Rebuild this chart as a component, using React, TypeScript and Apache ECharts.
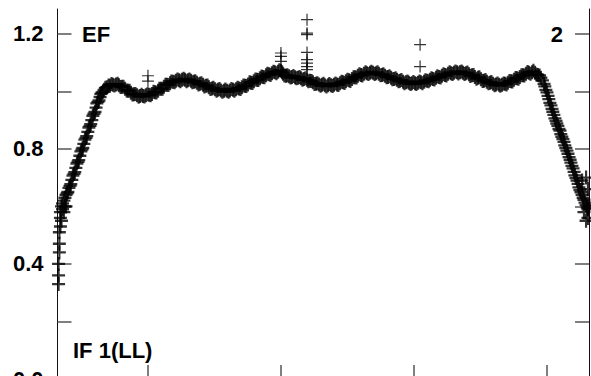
import React, { useEffect, useRef } from "react";
import * as echarts from "echarts";

// x ticks (wavelength, µm) and y ticks
const xTicks = [20, 25, 30, 35];
const yTicks = [0, 0.2, 0.4, 0.6, 0.8, 1.0, 1.2];
const yLabelValues = [0, 0.4, 0.8, 1.2];

// points piled up at the blue edge of the order
const leftEdge: [number, number][] = [
  [16.64, 0.33], [16.64, 0.36], [16.64, 0.4],
  [16.67, 0.44], [16.67, 0.47], [16.67, 0.51],
  [16.71, 0.53], [16.71, 0.56], [16.71, 0.58],
  [16.75, 0.6], [16.75, 0.55],
  [16.79, 0.59], [16.79, 0.61],
  [16.84, 0.58], [16.84, 0.62],
  [16.88, 0.6], [16.88, 0.63],
  [16.92, 0.64], [16.92, 0.6], [16.96, 0.645],
];

// rising blue end of the spectrum
const ramp: [number, number][] = [
  [16.99, 0.65], [17.03, 0.664], [17.07, 0.671], [17.1, 0.677], [17.14, 0.692], [17.18, 0.707],
  [17.22, 0.713], [17.25, 0.719], [17.29, 0.734], [17.33, 0.749], [17.37, 0.755], [17.4, 0.761],
  [17.44, 0.776], [17.48, 0.791], [17.52, 0.797], [17.55, 0.803], [17.59, 0.817], [17.63, 0.832],
  [17.67, 0.838], [17.7, 0.844], [17.74, 0.859], [17.78, 0.874], [17.82, 0.88], [17.85, 0.886],
  [17.89, 0.9], [17.93, 0.915], [17.97, 0.922], [18.01, 0.928], [18.05, 0.943], [18.08, 0.958],
  [18.12, 0.963], [18.16, 0.968], [18.2, 0.98], [18.23, 0.991], [18.27, 0.995], [18.31, 0.998],
  [18.35, 1.005], [18.4, 1.012],
];

// wavy plateau
const plateau: [number, number][] = [
  [18.46, 1.014], [18.52, 1.02], [18.57, 1.019], [18.63, 1.025], [18.68, 1.023], [18.74, 1.02],
  [18.8, 1.024], [18.86, 1.026], [18.91, 1.021], [18.97, 1.015], [19.02, 1.016], [19.08, 1.016],
  [19.14, 1.009], [19.2, 1.003], [19.25, 1.002], [19.31, 1.002], [19.36, 0.995], [19.42, 0.989],
  [19.47, 0.99], [19.53, 0.991], [19.59, 0.986], [19.65, 0.981], [19.7, 0.984], [19.76, 0.988],
  [19.81, 0.984], [19.87, 0.982], [19.92, 0.986], [19.98, 0.99], [20.04, 0.988], [20.1, 0.986],
  [20.15, 0.991], [20.21, 0.998], [20.26, 0.997], [20.32, 0.996], [20.38, 1.002], [20.43, 1.009],
  [20.49, 1.009], [20.55, 1.009], [20.6, 1.016], [20.66, 1.023], [20.71, 1.023], [20.77, 1.022],
  [20.83, 1.028], [20.88, 1.034], [20.94, 1.033], [21.0, 1.031], [21.05, 1.037], [21.11, 1.041],
  [21.17, 1.038], [21.22, 1.035], [21.28, 1.04], [21.34, 1.044], [21.39, 1.04], [21.45, 1.035],
  [21.5, 1.038], [21.56, 1.041], [21.62, 1.037], [21.67, 1.031], [21.73, 1.033], [21.78, 1.035],
  [21.84, 1.03], [21.9, 1.024], [21.95, 1.026], [22.01, 1.028], [22.07, 1.023], [22.12, 1.017],
  [22.18, 1.019], [22.24, 1.02], [22.29, 1.014], [22.35, 1.008], [22.41, 1.01], [22.46, 1.012],
  [22.52, 1.007], [22.58, 1.002], [22.63, 1.005], [22.69, 1.008], [22.74, 1.003], [22.8, 0.998],
  [22.86, 1.002], [22.91, 1.006], [22.97, 1.002], [23.03, 0.998], [23.08, 1.003], [23.14, 1.008],
  [23.2, 1.005], [23.25, 1.002], [23.31, 1.007], [23.37, 1.012], [23.42, 1.01], [23.48, 1.008],
  [23.53, 1.014], [23.59, 1.02], [23.65, 1.019], [23.7, 1.018], [23.76, 1.024], [23.82, 1.031],
  [23.87, 1.03], [23.93, 1.029], [23.98, 1.035], [24.04, 1.041], [24.1, 1.04], [24.15, 1.039],
  [24.21, 1.045], [24.27, 1.051], [24.32, 1.05], [24.38, 1.049], [24.44, 1.056], [24.49, 1.061],
  [24.55, 1.059], [24.61, 1.057], [24.66, 1.063], [24.72, 1.068], [24.77, 1.066], [24.83, 1.063],
  [24.89, 1.068], [24.94, 1.073], [25.0, 1.071], [25.04, 1.066], [25.08, 1.061], [25.13, 1.055],
  [25.19, 1.054], [25.24, 1.056], [25.3, 1.052], [25.36, 1.048], [25.41, 1.05], [25.47, 1.053],
  [25.53, 1.049], [25.58, 1.045], [25.64, 1.047], [25.7, 1.05], [25.75, 1.045], [25.81, 1.04],
  [25.86, 1.043], [25.92, 1.045], [25.98, 1.04], [26.03, 1.035], [26.09, 1.037], [26.15, 1.036],
  [26.2, 1.031], [26.26, 1.025], [26.32, 1.026], [26.37, 1.028], [26.43, 1.024], [26.49, 1.019],
  [26.54, 1.023], [26.6, 1.026], [26.65, 1.021], [26.71, 1.017], [26.77, 1.021], [26.82, 1.025],
  [26.88, 1.021], [26.94, 1.018], [26.99, 1.023], [27.05, 1.027], [27.11, 1.024], [27.16, 1.022],
  [27.22, 1.028], [27.28, 1.033], [27.33, 1.031], [27.39, 1.029], [27.44, 1.035], [27.5, 1.04],
  [27.56, 1.038], [27.61, 1.036], [27.67, 1.043], [27.73, 1.049], [27.78, 1.049], [27.84, 1.048],
  [27.89, 1.054], [27.95, 1.059], [28.01, 1.057], [28.06, 1.055], [28.12, 1.061], [28.18, 1.066],
  [28.23, 1.063], [28.29, 1.06], [28.35, 1.064], [28.4, 1.068], [28.46, 1.064], [28.52, 1.06],
  [28.57, 1.063], [28.63, 1.066], [28.68, 1.061], [28.74, 1.056], [28.8, 1.057], [28.85, 1.059],
  [28.91, 1.054], [28.97, 1.049], [29.02, 1.05], [29.08, 1.052], [29.14, 1.047], [29.19, 1.042],
  [29.25, 1.043], [29.31, 1.045], [29.36, 1.04], [29.42, 1.035], [29.47, 1.037], [29.53, 1.039],
  [29.59, 1.033], [29.64, 1.028], [29.7, 1.031], [29.76, 1.034], [29.81, 1.03], [29.87, 1.025],
  [29.92, 1.028], [29.98, 1.032], [30.04, 1.028], [30.09, 1.025], [30.15, 1.03], [30.21, 1.034],
  [30.26, 1.031], [30.32, 1.028], [30.38, 1.033], [30.43, 1.038], [30.49, 1.037], [30.55, 1.035],
  [30.6, 1.04], [30.66, 1.045], [30.71, 1.043], [30.77, 1.041], [30.83, 1.047], [30.88, 1.052],
  [30.94, 1.05], [31.0, 1.048], [31.05, 1.054], [31.11, 1.059], [31.17, 1.057], [31.22, 1.055],
  [31.28, 1.061], [31.34, 1.066], [31.39, 1.063], [31.45, 1.06], [31.5, 1.064], [31.56, 1.069],
  [31.62, 1.066], [31.67, 1.062], [31.73, 1.066], [31.79, 1.069], [31.84, 1.064], [31.9, 1.06],
  [31.95, 1.063], [32.01, 1.065], [32.07, 1.059], [32.12, 1.053], [32.18, 1.056], [32.24, 1.057],
  [32.29, 1.05], [32.35, 1.044], [32.41, 1.047], [32.46, 1.049], [32.52, 1.042], [32.58, 1.036],
  [32.63, 1.037], [32.69, 1.039], [32.74, 1.033], [32.8, 1.028], [32.86, 1.03], [32.91, 1.032],
  [32.97, 1.026], [33.03, 1.021], [33.08, 1.024], [33.14, 1.027], [33.2, 1.023], [33.25, 1.019],
  [33.31, 1.023], [33.37, 1.027], [33.42, 1.026], [33.48, 1.024], [33.53, 1.03], [33.59, 1.036],
  [33.65, 1.035], [33.7, 1.034], [33.76, 1.04], [33.82, 1.046], [33.87, 1.045], [33.93, 1.044],
  [33.98, 1.05], [34.04, 1.056], [34.1, 1.056], [34.15, 1.055], [34.21, 1.061], [34.27, 1.067],
  [34.32, 1.064], [34.38, 1.061], [34.44, 1.066], [34.49, 1.071], [34.55, 1.064], [34.6, 1.058],
  [34.66, 1.057], [34.72, 1.055], [34.77, 1.047], [34.83, 1.038], [34.89, 1.026],
];

// falling red end of the spectrum
const descent: [number, number][] = [
  [34.92, 1.017], [34.96, 1.005], [35.0, 0.996], [35.04, 0.984], [35.07, 0.973], [35.11, 0.96],
  [35.15, 0.951], [35.19, 0.939], [35.22, 0.929], [35.26, 0.918], [35.3, 0.906], [35.34, 0.897],
  [35.37, 0.888], [35.41, 0.88], [35.45, 0.869], [35.49, 0.863], [35.52, 0.851], [35.56, 0.842],
  [35.6, 0.834], [35.64, 0.824], [35.67, 0.812], [35.71, 0.803], [35.75, 0.794], [35.79, 0.783],
  [35.83, 0.771], [35.87, 0.762], [35.9, 0.752], [35.94, 0.741], [35.98, 0.732], [36.02, 0.72],
  [36.05, 0.708], [36.09, 0.699], [36.13, 0.69], [36.17, 0.678], [36.2, 0.666], [36.24, 0.657],
  [36.28, 0.649], [36.32, 0.64], [36.36, 0.63], [36.39, 0.623], [36.43, 0.613], [36.47, 0.605],
  [36.51, 0.596], [36.54, 0.59],
];

// points scattered at the red edge of the order
const rightEdge: [number, number][] = [
  [36.32, 0.69], [36.39, 0.58], [36.47, 0.55], [36.47, 0.7],
  [36.54, 0.6], [36.54, 0.66], [36.54, 0.56],
];

// outlying points above the spectrum
const spikes: [number, number][] = [
  [20.0, 1.054], [20.0, 1.035],
  [25.0, 1.133], [25.0, 1.121], [25.0, 1.104],
  [25.98, 1.249], [25.98, 1.202], [25.98, 1.197], [25.98, 1.135],
  [25.98, 1.11], [25.98, 1.098], [25.98, 1.086], [25.98, 1.075],
  [30.23, 1.162], [30.23, 1.086],
];

const PLUS_BOLD = "path://M5,0H7V5H12V7H7V12H5V7H0V5H5Z";
const PLUS_THIN = "path://M5.4,0H6.6V5.4H12V6.6H6.6V12H5.4V6.6H0V5.4H5.4Z";
const FONT = '"Liberation Sans", Arial, Helvetica, sans-serif';

export default function App() {
  const ref = useRef<HTMLDivElement>(null);
  useEffect(() => {
    if (!ref.current) return;
    const chart = echarts.init(ref.current, undefined, { renderer: "svg" });
    const xBase = {
      type: "value" as const,
      min: 16.6,
      max: 36.58,
      axisLine: { show: true, lineStyle: { color: "#222", width: 1 } },
      axisTick: { show: true, inside: true, length: 14, customValues: xTicks, lineStyle: { color: "#555", width: 1.5 } },
      axisLabel: { show: false },
      splitLine: { show: false },
    };
    const yBase = {
      type: "value" as const,
      min: 0,
      max: 1.286,
      axisLine: { show: true, lineStyle: { color: "#111", width: 1 } },
      axisTick: { show: true, inside: true, length: 14, customValues: yTicks, lineStyle: { color: "#555", width: 1.5 } },
      splitLine: { show: false },
    };
    const band = [...leftEdge, ...ramp, ...plateau, ...descent, ...rightEdge];
    chart.setOption({
      animation: false,
      backgroundColor: "#fff",
      grid: { left: 57.5, right: 2, top: 9, bottom: 21 },
      xAxis: [
        { ...xBase, position: "bottom" },
        { ...xBase, position: "top" },
      ],
      yAxis: [
        {
          ...yBase,
          position: "left",
          axisLabel: {
            show: true,
            customValues: yLabelValues,
            formatter: (v: number) => v.toFixed(1),
            fontSize: 22,
            fontWeight: "bold",
            fontFamily: FONT,
            color: "#000",
            margin: 14,
            padding: [4, 0, 0, 0],
          },
        },
        { ...yBase, position: "right", axisLabel: { show: false } },
      ],
      series: [
        {
          type: "scatter",
          data: band,
          symbol: PLUS_BOLD,
          symbolSize: [13, 14],
          itemStyle: { color: "#000" },
          silent: true,
          clip: false,
        },
        {
          type: "scatter",
          data: spikes,
          symbol: PLUS_THIN,
          symbolSize: 12,
          itemStyle: { color: "#000" },
          silent: true,
          clip: false,
        },
      ],
      graphic: [
        {
          type: "text",
          x: 82,
          y: 34,
          style: { text: "EF", font: `bold 22px ${FONT}`, fill: "#000", align: "left", verticalAlign: "middle" },
        },
        {
          type: "text",
          x: 563,
          y: 34,
          style: { text: "2", font: `bold 22px ${FONT}`, fill: "#000", align: "right", verticalAlign: "middle" },
        },
        {
          type: "text",
          x: 73,
          y: 350.5,
          style: { text: "IF 1(LL)", font: `bold 22px ${FONT}`, fill: "#000", align: "left", verticalAlign: "middle" },
        },
      ],
    });
    return () => chart.dispose();
  }, []);
  return <div ref={ref} style={{ position: "absolute", left: 0, top: 0, width: 591, height: 400 }} />;
}
